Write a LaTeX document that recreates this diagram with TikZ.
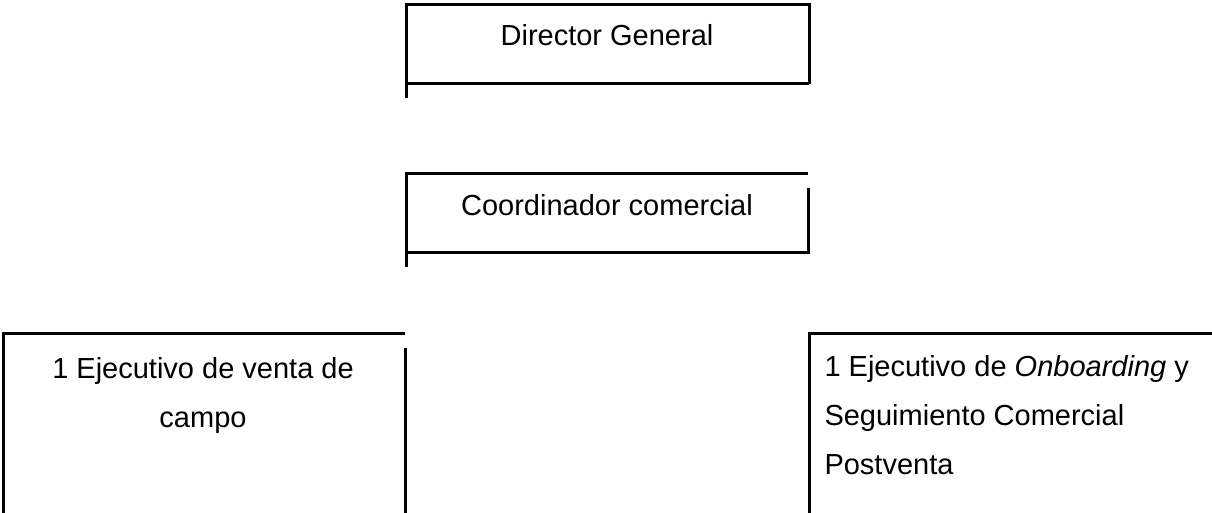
\documentclass[tikz,border=0pt]{standalone}
\usepackage{fontspec}
\setmainfont{Liberation Sans}

\begin{document}
\begin{tikzpicture}[x=1pt,y=-1pt,line width=3pt,
  puesto/.style={font=\fontsize{29}{49}\selectfont,inner sep=0pt,anchor=base}]
\useasboundingbox (0,0) rectangle (1212,513);

% director
\node[puesto] (director) at (607,46) {Director General};
\draw (406,98)--(406,5)--(809,5)--(809,84);
\draw (406,84)--(809,84);

% coordinador
\node[puesto] (coordinador) at (607,215) {Coordinador comercial};
\draw (406,267)--(406,174)--(808,174);
\draw (808,188)--(808,252)--(406,252);

% ejecutivos (base = ultima linea)
\node[puesto,align=center] (campo) at (203,427) {1 Ejecutivo de venta de\\campo};
\draw (3,513)--(3,333)--(405,333);
\draw (405,348)--(405,513);

\node[puesto,align=left,anchor=base west] (onboarding) at (823,474)
  {1 Ejecutivo de \textit{Onboarding} y\\Seguimiento Comercial\\Postventa};
\draw (809,513)--(809,333)--(1212,333);

\end{tikzpicture}
\end{document}
